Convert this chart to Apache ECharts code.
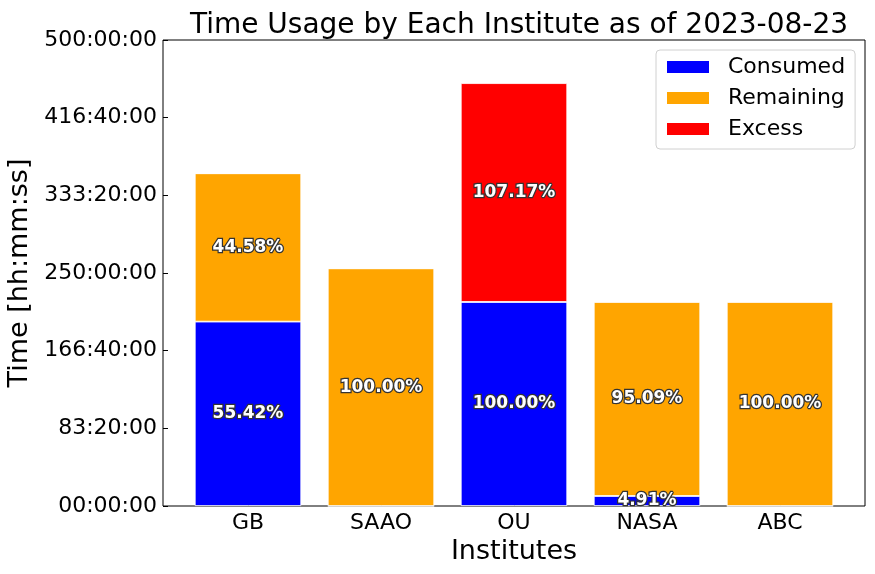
<!DOCTYPE html>
<html>
<head>
<meta charset="utf-8">
<script src="https://cdn.jsdelivr.net/npm/echarts@6/dist/echarts.min.js"></script>
<style>html,body{margin:0;padding:0;background:#fff}#c{width:875px;height:574px}</style>
</head>
<body>
<div id="c"></div>
<script>
// Data (seconds)
var institutes = ['GB', 'SAAO', 'OU', 'NASA', 'ABC'];
var consumed  = [712259, 0, 788400, 38711, 0];
var remaining = [572941, 918000, 0, 749689, 788400];
var excess    = [0, 0, 844928, 0, 0];
var consumedPct  = ['55.42%', '', '100.00%', '4.91%', ''];
var remainingPct = ['44.58%', '100.00%', '', '95.09%', '100.00%'];
var excessPct    = ['', '', '107.17%', '', ''];

function pad(n) { return (n < 10 ? '0' : '') + n; }
function hms(v) {
  var h = Math.floor(v / 3600), m = Math.floor((v % 3600) / 60), s = Math.floor(v % 60);
  return pad(h) + ':' + pad(m) + ':' + pad(s);
}

var FONT = 'DejaVu Sans';
function lbl(arr) {
  return {
    show: true, position: 'inside',
    formatter: function (p) { return arr[p.dataIndex]; },
    color: '#fff', fontFamily: FONT, fontWeight: 'bold', fontSize: 17,
    textBorderColor: '#333', textBorderWidth: 2.5
  };
}
function mk(name, data, color, pct) {
  return {
    name: name, type: 'bar', stack: 'total', xAxisIndex: 0, yAxisIndex: 0,
    barWidth: '80%', data: data,
    itemStyle: { color: color, borderColor: '#fff', borderWidth: 0.8 },
    label: lbl(pct), emphasis: { disabled: true }
  };
}

var chart = echarts.init(document.getElementById('c'), null, { renderer: 'canvas' });
chart.setOption({
  animation: false,
  backgroundColor: '#fff',
  title: {
    text: 'Time Usage by Each Institute as of 2023-08-23',
    left: 514, top: 7, textAlign: 'center',
    textStyle: { fontFamily: FONT, fontSize: 28, fontWeight: 'normal', color: '#000' }
  },
  legend: {
    data: ['Consumed', 'Remaining', 'Excess'],
    orient: 'vertical', left: 656, top: 50,
    icon: 'rect', itemWidth: 44, itemHeight: 14, itemGap: 9,
    padding: [6, 10, 9, 9],
    borderColor: '#d0d0d0', borderWidth: 1, borderRadius: 4,
    backgroundColor: '#fff',
    textStyle: { fontFamily: FONT, fontSize: 22, color: '#000', lineHeight: 22, padding: [0, 0, 0, 13] }
  },
  grid: [
    { left: 181.5, right: 28.5, top: 40, bottom: 68, outerBoundsMode: 'none', containLabel: false },
    { left: 163, right: 10, top: 40, bottom: 68, outerBoundsMode: 'none', containLabel: false,
      show: true, borderColor: '#000', borderWidth: 1, backgroundColor: 'transparent' }
  ],
  xAxis: [
    {
      type: 'category', gridIndex: 0, data: institutes,
      axisLine: { show: false },
      axisTick: { show: true, inside: true, alignWithLabel: true, length: 5, lineStyle: { color: '#000' } },
      axisLabel: { fontFamily: FONT, fontSize: 22, color: '#000', margin: 6 },
      name: 'Institutes', nameLocation: 'middle', nameGap: 32,
      nameTextStyle: { fontFamily: FONT, fontSize: 27, color: '#000' }
    },
    { type: 'value', gridIndex: 1, min: 0, max: 1, show: false }
  ],
  yAxis: [
    { type: 'value', gridIndex: 0, min: 0, max: 1800000, interval: 300000, show: false },
    {
      type: 'value', gridIndex: 1, min: 0, max: 1800000, interval: 300000,
      axisLine: { show: false },
      axisTick: { show: true, inside: true, length: 5, lineStyle: { color: '#000' } },
      splitLine: { show: false },
      axisLabel: {
        fontFamily: FONT, fontSize: 22, color: '#000', margin: 6,
        formatter: function (v) { return hms(v); }
      },
      name: 'Time [hh:mm:ss]', nameLocation: 'middle', nameGap: 124, nameRotate: 90,
      nameTextStyle: { fontFamily: FONT, fontSize: 27, color: '#000' }
    }
  ],
  series: [
    mk('Consumed', consumed, '#0000ff', consumedPct),
    mk('Remaining', remaining, '#ffa500', remainingPct),
    mk('Excess', excess, '#ff0000', excessPct)
  ]
});
</script>
</body>
</html>
